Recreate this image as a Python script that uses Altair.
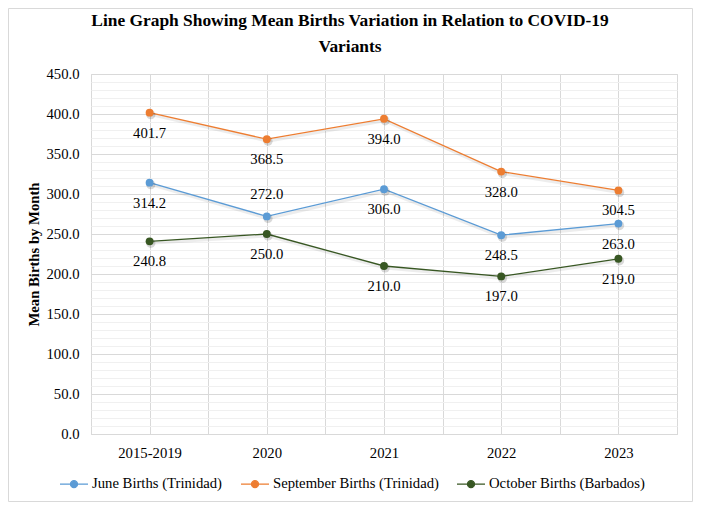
import altair as alt
import pandas as pd

periods = ["2015-2019", "2020", "2021", "2022", "2023"]
series_names = ["June Births (Trinidad)", "September Births (Trinidad)", "October Births (Barbados)"]
june = [314.2, 272.0, 306.0, 248.5, 263.0]
september = [401.7, 368.5, 394.0, 328.0, 304.5]
october = [240.8, 250.0, 210.0, 197.0, 219.0]
colors = ["#5B9BD5", "#ED7D31", "#385723"]
labels_above = [("June Births (Trinidad)", "2020")]

rows = []
for name, vals in zip(series_names, [june, september, october]):
    for i, (p, v) in enumerate(zip(periods, vals)):
        rows.append({"series": name, "period": p, "idx": i, "value": v,
                     "above": (name, p) in labels_above})
df = pd.DataFrame(rows)

FONT = "Liberation Serif"
FS = 14.7
W, H = 586, 360
PL, PT = 83, 66
PR = 685 - PL - W
PB = 494 - PT - H

label_js = "[" + ",".join(f"'{p}'" for p in periods) + "]"

x_enc = alt.X(
    "idx:Q",
    scale=alt.Scale(domain=[-0.5, len(periods) - 0.5], nice=False, zero=False),
    axis=alt.Axis(
        values=[i * 0.5 - 0.5 for i in range(2 * len(periods) + 1)],
        labelExpr=f"datum.value % 1 === 0 ? {label_js}[datum.value] : ''",
        title=None, ticks=False, grid=True, gridColor="#d9d9d9",
        domainColor="#d9d9d9", labelPadding=11, labelFont=FONT, labelFontSize=FS,
        labelColor="#000", labelOverlap=False, labelFlush=False,
    ),
)
y_enc = alt.Y(
    "value:Q",
    scale=alt.Scale(domain=[0, 450], nice=False),
    axis=alt.Axis(
        values=list(range(0, 451, 10)),
        labelExpr="datum.value % 50 === 0 ? format(datum.value, '.1f') : ''",
        gridColor={"condition": {"test": "datum.value % 50 === 0", "value": "#d9d9d9"},
                   "value": "#f0f0f0"},
        domain=False, ticks=False, labelPadding=12, labelFont=FONT, labelFontSize=FS,
        labelColor="#000", labelOverlap=False, labelFlush=False,
        title="Mean Births by Month", titleFont=FONT, titleFontSize=FS,
        titleFontWeight="bold", titleColor="#000", titlePadding=4,
    ),
)

sym_path = ("M-1,0L-0.25,0M0.25,0L1,0"
            "M-0.25,0A0.25,0.25,0,1,1,0.25,0A0.25,0.25,0,1,1,-0.25,0Z")

legend = alt.Legend(
    orient="none", legendX=-32, legendY=395, direction="horizontal", title=None,
    symbolType=sym_path, symbolSize=784, symbolStrokeWidth=1.3,
    labelFont=FONT, labelFontSize=FS, labelColor="#000", labelOffset=3,
    columnPadding=15, labelLimit=400,
)
color_scale = alt.Scale(domain=series_names, range=colors)

base = alt.Chart(df)

line_shadow = base.mark_line(color="#000", opacity=0.07, strokeWidth=3, yOffset=2, xOffset=1).encode(
    x=x_enc, y=y_enc, detail="series:N")
lines = base.mark_line(strokeWidth=1.3).encode(
    x=x_enc, y=y_enc, stroke=alt.Stroke("series:N", scale=color_scale, legend=legend))
pt_shadow = base.mark_circle(color="#000", opacity=0.15, size=85, xOffset=1.2, yOffset=2).encode(
    x=x_enc, y=y_enc)
points = base.mark_circle(size=62, opacity=1).encode(
    x=x_enc, y=y_enc, fill=alt.Fill("series:N", scale=color_scale, legend=legend))
text_below = base.mark_text(dy=21, font=FONT, fontSize=FS, color="#000").encode(
    x=x_enc, y=y_enc, text=alt.Text("value:Q", format=".1f")
).transform_filter("!datum.above")
text_above = base.mark_text(dy=-21, font=FONT, fontSize=FS, color="#000").encode(
    x=x_enc, y=y_enc, text=alt.Text("value:Q", format=".1f")
).transform_filter("datum.above")

border = alt.Chart(pd.DataFrame({"b": [0]})).mark_rect(
    filled=False, stroke="#d9d9d9", strokeWidth=1
).encode(
    x=alt.value(-PL + 0.5), x2=alt.value(W + PR - 0.5),
    y=alt.value(-PT + 0.5), y2=alt.value(H + PB - 0.5),
)

chart = alt.layer(
    border, line_shadow, lines, pt_shadow, points, text_below, text_above
).properties(
    width=W, height=H,
    title=alt.Title(
        ["Line Graph Showing Mean Births Variation in Relation to COVID-19", "Variants"],
        font=FONT, fontSize=17.4, fontWeight="bold", color="#000",
        anchor="middle", dx=-34, dy=47, offset=0, lineHeight=26,
    ),
    autosize=alt.AutoSizeParams(type="none"),
    padding={"left": PL, "top": PT, "right": PR, "bottom": PB},
).configure_view(stroke=None).configure(background="white")

chart.save("out.html", embed_options={"renderer": "svg", "actions": False})
